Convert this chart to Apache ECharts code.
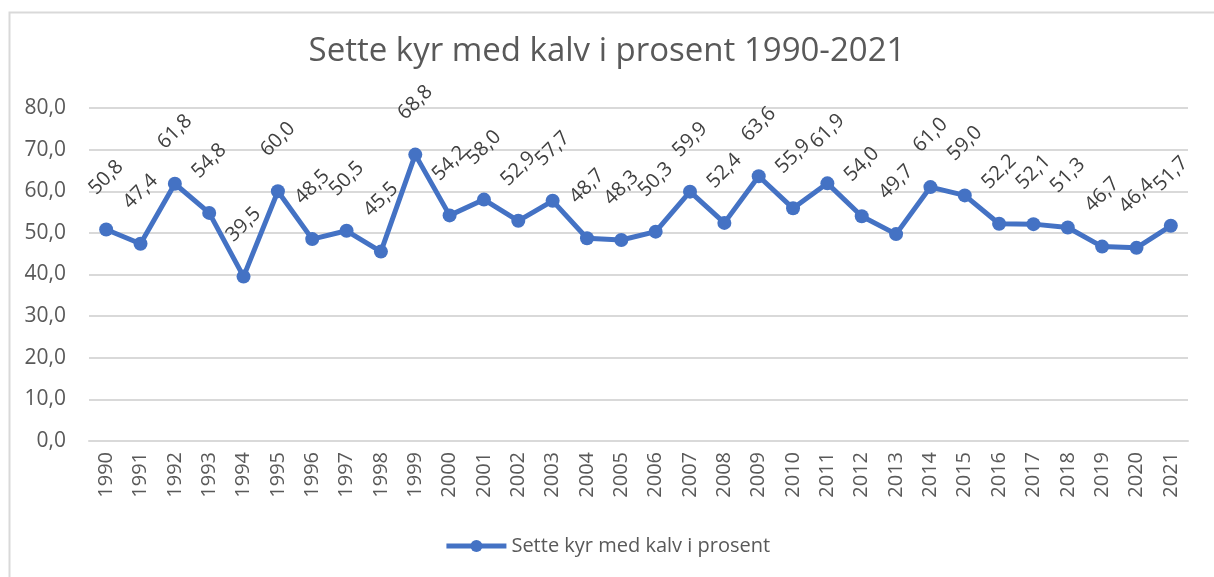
<!DOCTYPE html>
<html>
<head>
<meta charset="utf-8">
<script src="https://cdn.jsdelivr.net/npm/echarts@6/dist/echarts.min.js"></script>
<style>
  html, body { margin: 0; padding: 0; background: #fff; }
  #chart { width: 1214px; height: 577px; }
</style>
</head>
<body>
<div id="chart"></div>
<script>
const years = ['1990', '1991', '1992', '1993', '1994', '1995', '1996', '1997', '1998', '1999',
  '2000', '2001', '2002', '2003', '2004', '2005', '2006', '2007', '2008', '2009',
  '2010', '2011', '2012', '2013', '2014', '2015', '2016', '2017', '2018', '2019',
  '2020', '2021']
const kyrMedKalv = [50.8, 47.4, 61.8, 54.8, 39.5, 60.0, 48.5, 50.5, 45.5, 68.8,
  54.2, 58.0, 52.9, 57.7, 48.7, 48.3, 50.3, 59.9, 52.4, 63.6,
  55.9, 61.9, 54.0, 49.7, 61.0, 59.0, 52.2, 52.1, 51.3, 46.7,
  46.4, 51.7]
const seriesName = 'Sette kyr med kalv i prosent'
const titleText = 'Sette kyr med kalv i prosent 1990-2021'

const font = '"Open Sans", "Noto Sans", sans-serif'
const komma = v => Number(v).toFixed(1).replace('.', ',')

const myChart = echarts.init(document.getElementById('chart'))

myChart.setOption({
  animation: false,
  textStyle: { fontFamily: font },
  graphic: [{
    type: 'rect',
    left: 7, top: 10,
    shape: { width: 1230, height: 600 },
    style: { fill: 'none', stroke: '#d9d9d9', lineWidth: 2 },
    silent: true
  }],
  title: {
    text: titleText,
    left: 'center',
    top: 30,
    textStyle: { fontFamily: font, fontSize: 33, fontWeight: 'normal', color: '#595959' }
  },
  legend: {
    bottom: 16,
    left: 'center',
    itemWidth: 60,
    itemHeight: 15,
    itemGap: 4,
    lineStyle: { width: 5 },
    textStyle: { fontFamily: font, fontSize: 20, color: '#595959' },
    data: [seriesName]
  },
  grid: { left: 89, right: 26, top: 108, bottom: 136, containLabel: false, outerBoundsMode: 'none' },
  xAxis: {
    type: 'category',
    data: years,
    boundaryGap: true,
    axisLine: { lineStyle: { color: '#d9d9d9', width: 2 } },
    axisTick: { show: false },
    axisLabel: { rotate: 90, fontSize: 20, color: '#595959', margin: 11, fontFamily: font }
  },
  yAxis: {
    type: 'value',
    min: 0, max: 80, interval: 10,
    axisLine: { show: false },
    axisTick: { show: false },
    splitLine: { lineStyle: { color: '#d9d9d9', width: 2 } },
    axisLabel: { fontSize: 21, color: '#595959', margin: 23, formatter: komma, fontFamily: font }
  },
  series: [{
    name: seriesName,
    type: 'line',
    data: kyrMedKalv,
    symbol: 'circle',
    symbolSize: 14,
    lineStyle: { color: '#4472c4', width: 5 },
    itemStyle: { color: '#4472c4' },
    label: {
      show: true,
      position: 'top',
      distance: 45,
      rotate: 45,
      align: 'center',
      verticalAlign: 'middle',
      fontSize: 20,
      color: '#404040',
      fontFamily: font,
      formatter: p => komma(p.value)
    }
  }]
})
</script>
</body>
</html>
